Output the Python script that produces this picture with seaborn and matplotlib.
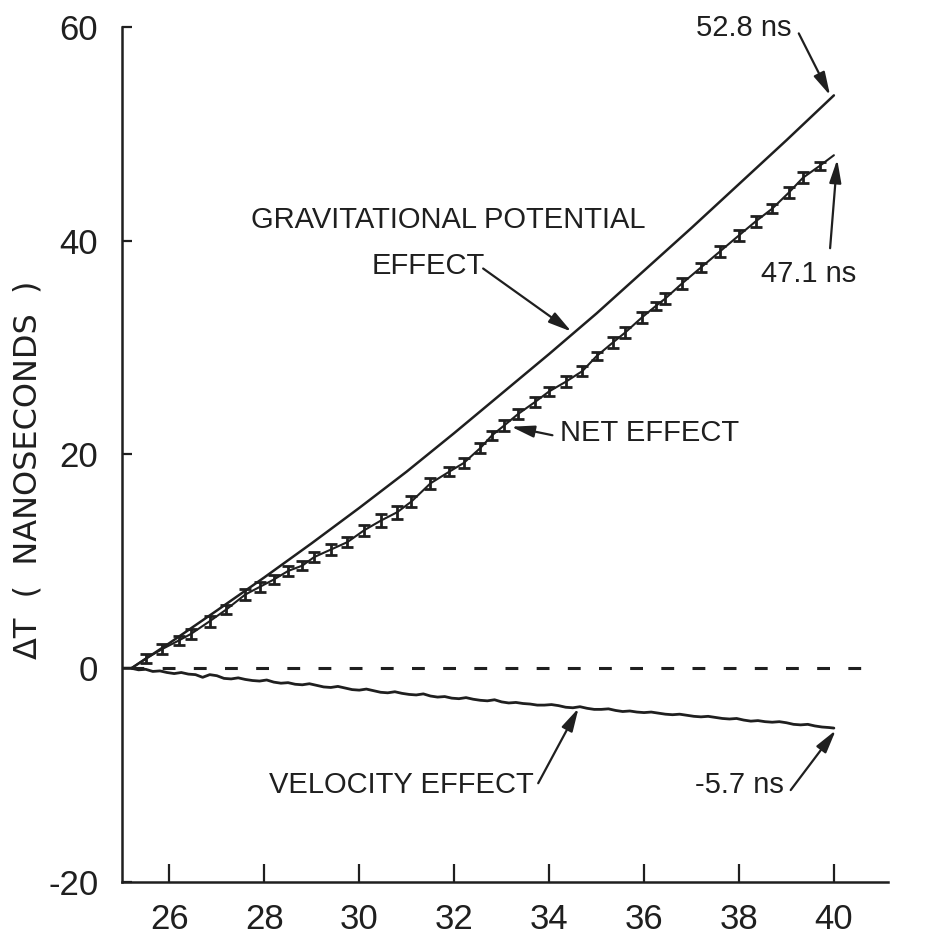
import matplotlib
matplotlib.use("Agg")
import matplotlib.pyplot as plt
import seaborn as sns
from matplotlib import font_manager

# ---------------- data ----------------
grav_x = [25.0, 25.2, 26, 27, 28, 29, 30, 31, 32, 33, 34, 35, 36, 37, 38, 39, 40]
grav_y = [0.0, 0.0, 2.35, 5.4, 8.5, 11.7, 15.0, 18.4, 22.0, 25.7, 29.4, 33.2, 37.2, 41.2, 45.3, 49.4, 53.6]

net_x = [25.2, 25.5, 25.85, 26.2, 26.45, 26.85, 27.2, 27.6, 27.9, 28.2,
         28.5, 28.8, 29.05, 29.4, 29.75, 30.1, 30.45, 30.8, 31.1, 31.5,
         31.9, 32.2, 32.55, 32.8, 33.05, 33.35, 33.7, 34.0, 34.35, 34.7,
         35.0, 35.35, 35.6, 35.95, 36.25, 36.45, 36.8, 37.2, 37.6, 38.0,
         38.35, 38.7, 39.05, 39.35, 39.7, 40.0]
net_y = [0.0, 0.9, 1.8, 2.6, 3.2, 4.4, 5.5, 6.9, 7.6, 8.3,
         9.1, 9.6, 10.4, 11.1, 11.8, 12.9, 13.8, 14.6, 15.6, 17.3,
         18.4, 19.2, 20.6, 21.8, 22.7, 23.8, 24.9, 25.9, 26.8, 27.8,
         29.2, 30.5, 31.4, 32.8, 33.9, 34.6, 36.0, 37.5, 39.0, 40.5,
         41.8, 43.0, 44.5, 45.9, 47.0, 48.0]
net_err = [0.0, 0.4, 0.5, 0.4, 0.5, 0.5, 0.4, 0.5, 0.5, 0.4,
           0.5, 0.4, 0.5, 0.5, 0.5, 0.5, 0.6, 0.6, 0.5, 0.5,
           0.4, 0.5, 0.5, 0.4, 0.5, 0.5, 0.5, 0.4, 0.5, 0.5,
           0.4, 0.5, 0.5, 0.5, 0.4, 0.5, 0.5, 0.4, 0.5, 0.5,
           0.5, 0.4, 0.5, 0.5, 0.4, 0.0]

vel_x = [25.0, 25.2, 25.35, 25.5, 25.65, 25.8, 25.95, 26.1, 26.25, 26.4, 26.55,
         26.7, 26.85, 27.0, 27.15, 27.3, 27.45, 27.6, 27.75, 27.9, 28.05,
         28.2, 28.35, 28.5, 28.65, 28.8, 28.95, 29.1, 29.25, 29.4, 29.55,
         29.7, 29.85, 30.0, 30.15, 30.3, 30.45, 30.6, 30.75, 30.9, 31.05,
         31.2, 31.35, 31.5, 31.65, 31.8, 31.95, 32.1, 32.25, 32.4, 32.55,
         32.7, 32.85, 33.0, 33.15, 33.3, 33.45, 33.6, 33.75, 33.9, 34.05,
         34.2, 34.35, 34.5, 34.65, 34.8, 34.95, 35.1, 35.25, 35.4, 35.55,
         35.7, 35.85, 36.0, 36.15, 36.3, 36.45, 36.6, 36.75, 36.9, 37.05,
         37.2, 37.35, 37.5, 37.65, 37.8, 37.95, 38.1, 38.25, 38.4, 38.55,
         38.7, 38.85, 39.0, 39.15, 39.3, 39.45, 39.6, 39.75, 39.9, 40.0]
vel_y = [0.0, 0.0, -0.15, -0.1, -0.3, -0.25, -0.4, -0.5, -0.4, -0.55, -0.6,
         -0.85, -0.6, -0.7, -0.95, -1.0, -0.9, -1.05, -1.15, -1.2, -1.1,
         -1.3, -1.4, -1.35, -1.5, -1.55, -1.45, -1.6, -1.75, -1.8, -1.7,
         -1.85, -2.0, -2.05, -1.95, -2.1, -2.25, -2.3, -2.2, -2.35, -2.45,
         -2.5, -2.4, -2.6, -2.7, -2.65, -2.8, -2.85, -2.75, -2.9, -3.0,
         -3.05, -2.95, -3.15, -3.25, -3.2, -3.3, -3.35, -3.45, -3.45, -3.4,
         -3.5, -3.65, -3.7, -3.6, -3.75, -3.85, -3.85, -3.8, -3.95, -4.05,
         -4.0, -4.1, -4.15, -4.1, -4.2, -4.3, -4.35, -4.3, -4.4, -4.5,
         -4.55, -4.5, -4.6, -4.7, -4.75, -4.7, -4.85, -4.95, -4.9, -5.0,
         -5.05, -5.0, -5.1, -5.25, -5.3, -5.25, -5.4, -5.5, -5.55, -5.6]

zero_x = [25.2, 40.7]
zero_y = [0.0, 0.0]

x_ticks = [26, 28, 30, 32, 34, 36, 38, 40]
y_ticks = [-20, 0, 20, 40, 60]

# ---------------- style ----------------
sns.set_theme(style="ticks")
avail = {f.name for f in font_manager.fontManager.ttflist}
NARROW = "Liberation Sans Narrow" if "Liberation Sans Narrow" in avail else "Liberation Sans"
plt.rcParams["font.family"] = [NARROW, "DejaVu Sans"]
plt.rcParams["axes.unicode_minus"] = False

INK = "#1f1f1f"

fig = plt.figure(figsize=(9.38, 9.43), dpi=100)
fig.patch.set_facecolor("white")
ax = fig.add_axes([0.130, 0.0647, 0.8167, 0.9067])
ax.set_facecolor("white")

# lines
sns.lineplot(x=grav_x, y=grav_y, ax=ax, color=INK, lw=1.8, errorbar=None)
sns.lineplot(x=net_x, y=net_y, ax=ax, color=INK, lw=1.5, errorbar=None)
sns.lineplot(x=vel_x, y=vel_y, ax=ax, color=INK, lw=2.0, errorbar=None)
sns.lineplot(x=zero_x, y=zero_y, ax=ax, color=INK, lw=2.2, errorbar=None,
             linestyle=(0, (4.2, 6.0)))

ax.errorbar(net_x[1:-1], net_y[1:-1], yerr=net_err[1:-1], fmt="none",
            ecolor=INK, elinewidth=2.0, capsize=4, capthick=2.0)

# axes
ax.set_xlim(25.0, 41.14)
ax.set_ylim(-20, 60)
ax.set_xticks(x_ticks)
ax.set_yticks(y_ticks)
ax.set_xticklabels([str(v) for v in x_ticks])
ax.set_yticklabels([str(v) for v in y_ticks])
for s in ["top", "right"]:
    ax.spines[s].set_visible(False)
for s in ["left", "bottom"]:
    ax.spines[s].set_linewidth(1.8)
    ax.spines[s].set_color(INK)
ax.tick_params(axis="x", direction="in", length=13, width=1.6, pad=15,
               labelsize=25, colors=INK)
ax.tick_params(axis="y", direction="in", length=7, width=1.6, pad=17,
               labelsize=25, colors=INK)
for lab in ax.get_xticklabels() + ax.get_yticklabels():
    lab.set_family([NARROW, "DejaVu Sans"])

ax.set_xlabel("")
ax.set_ylabel("ΔT  (  NANOSECONDS  )", fontsize=23, color=INK,
              family=["DejaVu Sans"])
ax.yaxis.set_label_coords(-0.103, 0.482)

# annotations
tkw = dict(fontsize=21, color=INK, ha="center", va="center",
           family=[NARROW, "DejaVu Sans"])
akw = dict(arrowstyle="-|>,head_length=0.7,head_width=0.18", lw=1.6,
           color=INK, shrinkA=0, shrinkB=0, mutation_scale=20)

ax.text(38.10, 59.9, "52.8 ns", **tkw)
ax.annotate("", xy=(39.92, 53.6), xytext=(39.26, 59.4), arrowprops=akw)

ax.text(39.47, 36.9, "47.1 ns", **tkw)
ax.annotate("", xy=(40.07, 47.6), xytext=(39.92, 39.3), arrowprops=akw)

ax.text(31.88, 41.9, "GRAVITATIONAL POTENTIAL", **tkw)
ax.text(31.45, 37.6, "EFFECT", **tkw)
ax.annotate("", xy=(34.47, 31.5), xytext=(32.61, 37.4), arrowprops=akw)

ax.text(36.12, 22.0, "NET EFFECT", **tkw)
ax.annotate("", xy=(33.2, 22.6), xytext=(34.07, 21.8), arrowprops=akw)

ax.text(30.88, -10.9, "VELOCITY EFFECT", **tkw)
ax.annotate("", xy=(34.62, -3.74), xytext=(33.77, -10.76), arrowprops=akw)

ax.text(38.0, -10.9, "-5.7 ns", **tkw)
ax.annotate("", xy=(40.04, -5.8), xytext=(39.09, -11.4), arrowprops=akw)

fig.savefig("out.png", dpi=100, facecolor="white")
